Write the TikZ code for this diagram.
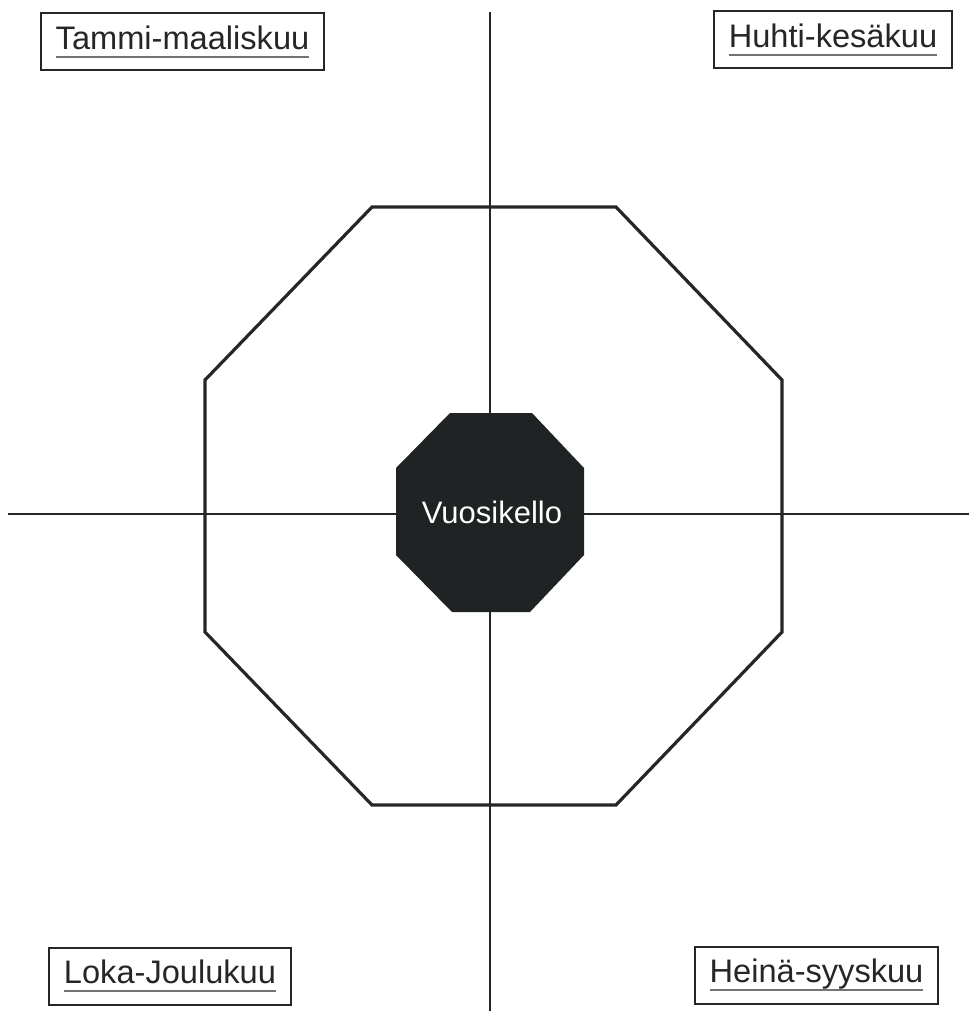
\documentclass[tikz,border=0pt]{standalone}
\usepackage{fontspec}
\setmainfont{Liberation Sans}
\usetikzlibrary{positioning}
\definecolor{hubc}{HTML}{1F2323}
\newcommand\ulmon[1]{\setbox0\hbox{#1}\rlap{\color{black!55}\rule[-4.4pt]{\wd0}{1.1pt}}\box0}
\tikzset{
  mon/.style={draw=black!85,line width=1pt,text=black!85,
              font=\fontsize{16.3}{19}\selectfont,inner xsep=7.5pt,
              minimum height=28.5pt,text height=11.7pt,text depth=4.6pt},
  ax/.style ={draw=black!85,line width=1pt},
  oct/.style={draw=black!85,line width=1.6pt,line join=miter},
  hub/.style={fill=hubc},
  hubtxt/.style={text=white,font=\fontsize{15.5}{18}\selectfont},
}
\begin{document}
\begin{tikzpicture}[x=0.5pt,y=-0.5pt]
  \useasboundingbox (0,0) rectangle (969,1011);
  % axes
  \coordinate (n) at (490,12);
  \coordinate (s) at (490,1011);
  \coordinate (w) at (8,514);
  \coordinate (e) at (969,514);
  \draw[ax] (n) -- (s);
  \draw[ax] (w) -- (e);
  % outer ring
  \draw[oct] (372,207) -- (616,207) -- (782,380) -- (782,632)
             -- (616,805) -- (372,805) -- (205,632) -- (205,380) -- cycle;
  % centre
  \fill[hub] (450,413) -- (532,413) -- (584,468) -- (584,555)
             -- (530,612) -- (452,612) -- (396,555) -- (396,468) -- cycle;
  \node[hubtxt] (hub) at (492,512) {Vuosikello};
  % quarters
  \node[mon] (q1) at (182.5,42) {\ulmon{Tammi-maaliskuu}};
  \node[mon] (q2) at (833,40) {\ulmon{Huhti-kesäkuu}};
  \node[mon] (q3) at (816.5,975.5) {\ulmon{Heinä-syyskuu}};
  \node[mon] (q4) at (170,976.5) {\ulmon{Loka-Joulukuu}};
\end{tikzpicture}
\end{document}
